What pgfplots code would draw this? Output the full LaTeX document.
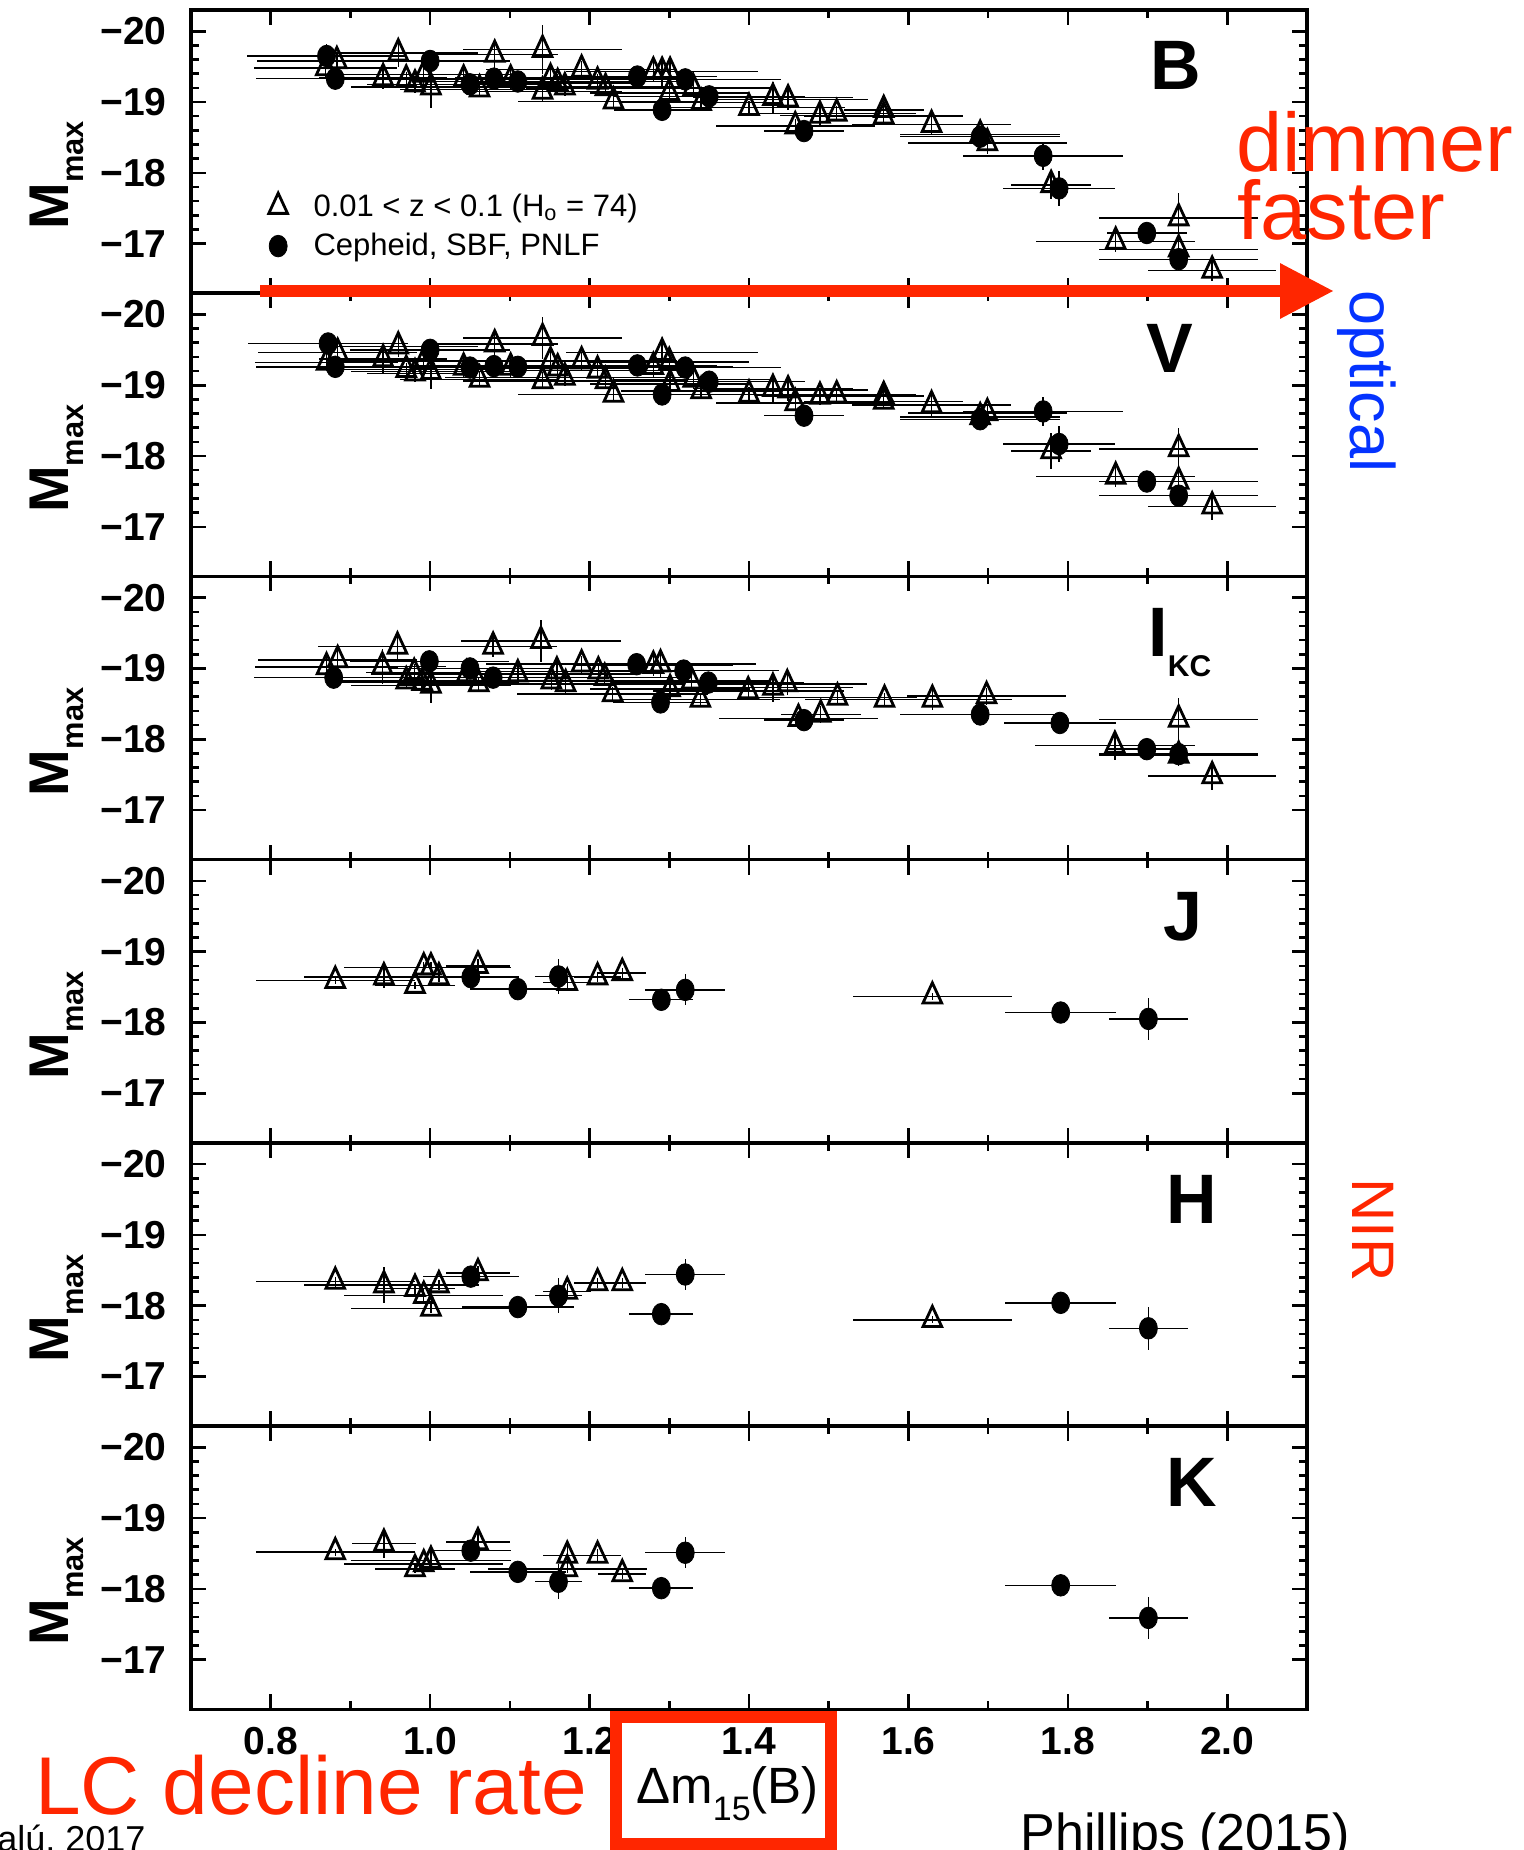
\documentclass[border=0pt]{standalone}
\usepackage{pgfplots}
\pgfplotsset{compat=1.18}
\usepackage{pgfplotstable}
\usepackage{fontspec}
\setmainfont{Liberation Sans}
\usetikzlibrary{arrows.meta}
\definecolor{kred}{RGB}{255,38,0}
\definecolor{kblue}{RGB}{4,51,255}

% ---------- B ----------
\pgfplotstableread{
x y ex ey
0.869 -19.48 0.09 0.12
0.883 -19.58 0.10 0.10
0.941 -19.34 0.08 0.15
0.960 -19.69 0.10 0.20
0.970 -19.32 0.10 0.10
0.981 -19.25 0.06 0.12
0.992 -19.39 0.12 0.20
1.001 -19.21 0.10 0.30
1.042 -19.32 0.12 0.15
1.062 -19.18 0.10 0.10
1.081 -19.67 0.08 0.22
1.101 -19.32 0.15 0.15
1.141 -19.74 0.10 0.35
1.141 -19.15 0.10 0.15
1.151 -19.34 0.12 0.20
1.160 -19.27 0.10 0.12
1.169 -19.21 0.15 0.12
1.190 -19.46 0.12 0.12
1.210 -19.29 0.10 0.10
1.220 -19.20 0.10 0.12
1.230 -19.01 0.12 0.10
1.280 -19.43 0.10 0.15
1.291 -19.43 0.12 0.20
1.300 -19.13 0.10 0.15
1.301 -19.43 0.10 0.15
1.330 -19.20 0.10 0.12
1.340 -18.99 0.10 0.10
1.400 -18.92 0.12 0.10
1.430 -19.06 0.10 0.22
1.449 -19.04 0.10 0.15
1.458 -18.66 0.10 0.10
1.489 -18.81 0.05 0.15
1.510 -18.84 0.10 0.10
1.569 -18.89 0.05 0.10
1.569 -18.80 0.10 0.12
1.629 -18.68 0.10 0.15
1.690 -18.54 0.10 0.10
1.699 -18.42 0.10 0.15
1.779 -17.83 0.05 0.20
1.860 -17.03 0.10 0.15
1.939 -17.36 0.10 0.35
1.939 -16.92 0.10 0.15
1.981 -16.62 0.08 0.15
}\BT
\pgfplotstableread{
x y ex ey
0.870 -19.65 0.10 0.17
0.881 -19.33 0.10 0.15
1.000 -19.58 0.10 0.15
1.050 -19.25 0.10 0.15
1.080 -19.33 0.10 0.12
1.110 -19.29 0.12 0.15
1.260 -19.36 0.10 0.12
1.291 -18.89 0.06 0.10
1.320 -19.32 0.12 0.12
1.350 -19.08 0.12 0.10
1.469 -18.59 0.05 0.10
1.690 -18.51 0.10 0.15
1.769 -18.24 0.10 0.20
1.789 -17.78 0.07 0.25
1.899 -17.15 0.05 0.15
1.939 -16.78 0.10 0.15
}\BC
% ---------- V ----------
\pgfplotstableread{
x y ex ey
0.870 -19.32 0.09 0.12
0.884 -19.46 0.10 0.12
0.941 -19.37 0.08 0.20
0.960 -19.55 0.10 0.15
0.970 -19.22 0.10 0.10
0.981 -19.17 0.06 0.12
0.992 -19.34 0.12 0.15
1.001 -19.19 0.10 0.25
1.042 -19.25 0.12 0.15
1.062 -19.08 0.10 0.10
1.081 -19.58 0.08 0.15
1.101 -19.25 0.15 0.15
1.141 -19.67 0.10 0.30
1.141 -19.06 0.10 0.12
1.151 -19.34 0.12 0.20
1.160 -19.24 0.10 0.12
1.169 -19.11 0.15 0.12
1.190 -19.34 0.12 0.12
1.210 -19.21 0.10 0.10
1.220 -19.06 0.10 0.12
1.230 -18.87 0.12 0.10
1.280 -19.26 0.10 0.15
1.291 -19.46 0.12 0.20
1.300 -19.33 0.10 0.15
1.301 -19.02 0.10 0.15
1.330 -19.08 0.10 0.12
1.340 -18.92 0.10 0.10
1.400 -18.87 0.12 0.10
1.430 -18.95 0.10 0.20
1.449 -18.93 0.10 0.15
1.458 -18.75 0.10 0.10
1.489 -18.84 0.05 0.12
1.510 -18.86 0.10 0.10
1.569 -18.85 0.05 0.10
1.569 -18.77 0.10 0.10
1.629 -18.72 0.10 0.15
1.690 -18.55 0.10 0.10
1.699 -18.61 0.10 0.12
1.779 -18.07 0.05 0.25
1.860 -17.71 0.10 0.15
1.939 -18.10 0.10 0.30
1.939 -17.64 0.10 0.15
1.981 -17.29 0.08 0.20
}\VT
\pgfplotstableread{
x y ex ey
0.872 -19.59 0.10 0.12
0.881 -19.26 0.10 0.15
1.000 -19.50 0.10 0.12
1.050 -19.25 0.10 0.15
1.080 -19.27 0.10 0.12
1.110 -19.26 0.12 0.15
1.260 -19.28 0.10 0.12
1.291 -18.87 0.06 0.10
1.320 -19.25 0.12 0.12
1.350 -19.05 0.12 0.10
1.469 -18.57 0.05 0.10
1.690 -18.52 0.10 0.12
1.769 -18.63 0.10 0.20
1.789 -18.17 0.07 0.25
1.899 -17.64 0.05 0.15
1.939 -17.44 0.10 0.15
}\VC
% ---------- I_KC ----------
\pgfplotstableread{
x y ex ey
0.870 -19.02 0.09 0.15
0.884 -19.12 0.10 0.20
0.940 -19.03 0.08 0.25
0.959 -19.31 0.10 0.18
0.970 -18.82 0.10 0.10
0.980 -18.94 0.06 0.12
0.990 -18.80 0.12 0.15
1.001 -18.76 0.10 0.25
1.046 -18.92 0.12 0.15
1.061 -18.78 0.10 0.10
1.079 -19.31 0.08 0.15
1.110 -18.92 0.15 0.15
1.139 -19.39 0.10 0.30
1.152 -18.82 0.10 0.12
1.159 -18.96 0.12 0.20
1.170 -18.78 0.15 0.12
1.190 -19.06 0.12 0.12
1.211 -18.96 0.10 0.10
1.219 -18.87 0.10 0.12
1.229 -18.64 0.12 0.10
1.280 -19.04 0.10 0.15
1.289 -19.06 0.12 0.20
1.301 -18.71 0.10 0.15
1.328 -18.82 0.10 0.12
1.339 -18.56 0.10 0.10
1.399 -18.68 0.12 0.10
1.430 -18.73 0.10 0.20
1.448 -18.78 0.10 0.15
1.462 -18.29 0.10 0.10
1.490 -18.35 0.05 0.12
1.511 -18.59 0.10 0.10
1.570 -18.56 0.10 0.10
1.630 -18.56 0.10 0.15
1.698 -18.61 0.10 0.12
1.859 -17.91 0.10 0.20
1.939 -18.28 0.10 0.30
1.939 -17.77 0.10 0.15
1.981 -17.48 0.08 0.20
}\IT
\pgfplotstableread{
x y ex ey
0.879 -18.87 0.10 0.15
0.999 -19.10 0.10 0.12
1.050 -19.00 0.10 0.15
1.079 -18.87 0.10 0.12
1.259 -19.06 0.10 0.12
1.289 -18.52 0.06 0.10
1.318 -18.97 0.12 0.12
1.349 -18.80 0.12 0.10
1.469 -18.27 0.05 0.10
1.690 -18.35 0.10 0.12
1.790 -18.23 0.07 0.10
1.899 -17.86 0.05 0.15
1.939 -17.79 0.10 0.15
}\IC
% ---------- J ----------
\pgfplotstableread{
x y ex ey
0.881 -18.59 0.10 0.05
0.942 -18.64 0.10 0.15
0.981 -18.52 0.05 0.05
0.992 -18.78 0.10 0.07
1.001 -18.78 0.10 0.07
1.011 -18.64 0.05 0.07
1.060 -18.80 0.04 0.10
1.172 -18.56 0.03 0.10
1.210 -18.64 0.03 0.07
1.241 -18.70 0.03 0.07
1.630 -18.37 0.10 0.05
}\JT
\pgfplotstableread{
x y ex ey
1.051 -18.64 0.06 0.05
1.110 -18.47 0.06 0.05
1.161 -18.65 0.03 0.25
1.290 -18.32 0.04 0.05
1.320 -18.46 0.05 0.22
1.791 -18.14 0.07 0.05
1.901 -18.05 0.05 0.30
}\JC
% ---------- H ----------
\pgfplotstableread{
x y ex ey
0.881 -18.34 0.10 0.07
0.942 -18.29 0.10 0.25
0.981 -18.24 0.05 0.07
0.992 -18.14 0.10 0.10
1.001 -17.96 0.10 0.07
1.011 -18.29 0.05 0.07
1.060 -18.46 0.04 0.10
1.172 -18.20 0.03 0.10
1.210 -18.32 0.03 0.07
1.241 -18.32 0.03 0.07
1.630 -17.80 0.10 0.05
}\HT
\pgfplotstableread{
x y ex ey
1.051 -18.41 0.06 0.05
1.110 -17.98 0.07 0.05
1.161 -18.14 0.03 0.25
1.290 -17.88 0.04 0.05
1.320 -18.44 0.05 0.22
1.791 -18.04 0.07 0.05
1.901 -17.68 0.05 0.30
}\HC
% ---------- K ----------
\pgfplotstableread{
x y ex ey
0.881 -18.52 0.10 0.05
0.942 -18.64 0.04 0.20
0.981 -18.28 0.05 0.05
0.992 -18.35 0.10 0.05
1.001 -18.40 0.10 0.15
1.060 -18.66 0.04 0.15
1.172 -18.47 0.03 0.15
1.172 -18.28 0.10 0.05
1.210 -18.47 0.03 0.10
1.241 -18.21 0.03 0.07
}\KT
\pgfplotstableread{
x y ex ey
1.051 -18.54 0.05 0.05
1.110 -18.24 0.06 0.05
1.161 -18.10 0.03 0.25
1.290 -18.01 0.04 0.05
1.320 -18.51 0.05 0.22
1.791 -18.05 0.07 0.05
1.901 -17.59 0.05 0.30
}\KC

\pgfplotsset{
  panel/.style={
    scale only axis, width=558pt, height=141.6pt,
    anchor=north west,
    xmin=0.7, xmax=2.1, ymin=-20.3, ymax=-16.3, y dir=reverse,
    xtick={0.8,1.0,1.2,1.4,1.6,1.8,2.0}, minor x tick num=1,
    xticklabels={},
    ytick={-20,-19,-18,-17}, minor y tick num=4,
    yticklabels={−20,−19,−18,−17},
    tick align=inside,
    major tick length=7.5pt, minor tick length=4pt,
    tick style={black, line width=1.3pt},
    axis line style={line width=1.7pt},
    yticklabel style={font=\bfseries\fontsize{19.5}{19.5}\selectfont, inner sep=0pt, xshift=-12pt},
  },
  tri/.style={only marks, mark=triangle, mark size=5.4pt,
    mark options={black, line width=1.4pt, yscale=1.25},
    error bars/.cd, x dir=both, x explicit, y dir=both, y explicit,
    error mark=none, error bar style={line width=0.7pt, black}},
  dot/.style={only marks, mark=*, mark size=4.5pt,
    mark options={black, fill=black, yscale=1.2},
    error bars/.cd, x dir=both, x explicit, y dir=both, y explicit,
    error mark=none, error bar style={line width=0.7pt, black}},
}
\newcommand{\plotpair}[2]{%
  \addplot[tri] table[x=x,y=y,x error=ex,y error=ey]{#1};
  \addplot[dot] table[x=x,y=y,x error=ex,y error=ey]{#2};
}

\begin{document}
\begin{tikzpicture}
\begin{axis}[panel, at={(95.5pt,-5pt)},
  legend cell align=left,
  legend style={draw=none, fill=none, at={(axis description cs:0.064,0.236)}, anchor=west,
    font=\fontsize{15.5}{18}\selectfont, row sep=5pt, column sep=12pt,
    nodes={inner sep=1pt}}]
\plotpair{\BT}{\BC}
\addlegendentry{0.01 < z < 0.1 (H\textsubscript{o} = 74)}
\addlegendentry{Cepheid, SBF, PNLF}
\end{axis}
\begin{axis}[panel, at={(95.5pt,-146.6pt)}]
\plotpair{\VT}{\VC}
\end{axis}
\begin{axis}[panel, at={(95.5pt,-288.2pt)}]
\plotpair{\IT}{\IC}
\end{axis}
\begin{axis}[panel, at={(95.5pt,-429.8pt)}]
\plotpair{\JT}{\JC}
\end{axis}
\begin{axis}[panel, at={(95.5pt,-571.4pt)}]
\plotpair{\HT}{\HC}
\end{axis}
\begin{axis}[panel, at={(95.5pt,-713.0pt)},
  xticklabels={0.8,1.0,1.2,1.4,1.6,1.8,2.0},
  xticklabel style={font=\bfseries\fontsize{19.5}{19.5}\selectfont, inner sep=0pt, yshift=-9pt}]
\plotpair{\KT}{\KC}
\end{axis}

\begin{scope}[x=0.5pt, y=-0.5pt]
  % y labels
  \foreach \yy in {230,513.2,796.4,1079.6,1362.8,1646}{
    \node[rotate=90, anchor=base west, inner sep=0pt, font=\bfseries\fontsize{28}{28}\selectfont]
      at (68,\yy) {M\raisebox{-7.5pt}{\fontsize{15.4}{15.4}\selectfont max}};
  }
  % panel letters
  \node[anchor=base west, inner sep=0pt, font=\bfseries\fontsize{35}{35}\selectfont] at (1150,90) {B};
  \node[anchor=base west, inner sep=0pt, font=\bfseries\fontsize{35}{35}\selectfont] at (1146,373) {V};
  \node[anchor=base west, inner sep=0pt, font=\bfseries\fontsize{35}{35}\selectfont] at (1148,656) {I\raisebox{-10pt}{\fontsize{15}{15}\selectfont KC}};
  \node[anchor=base west, inner sep=0pt, font=\bfseries\fontsize{35}{35}\selectfont] at (1163,940) {J};
  \node[anchor=base west, inner sep=0pt, font=\bfseries\fontsize{35}{35}\selectfont] at (1166,1223) {H};
  \node[anchor=base west, inner sep=0pt, font=\bfseries\fontsize{35}{35}\selectfont] at (1166,1506) {K};
  % arrow
  \draw[kred, line width=6.25pt, -{Triangle[length=27pt,width=26pt]}] (260,291) -- (1334,291);
  % annotations
  \node[anchor=base west, inner sep=0pt, text=kred, font=\fontsize{41.5}{41.5}\selectfont] at (1236,172) {dimmer};
  \node[anchor=base west, inner sep=0pt, text=kred, font=\fontsize{41.5}{41.5}\selectfont] at (1237,240) {faster};
  \node[rotate=-90, anchor=base west, inner sep=0pt, text=kblue, font=\fontsize{31.5}{31.5}\selectfont] at (1350,290) {optical};
  \node[rotate=-90, anchor=base west, inner sep=0pt, text=kred, font=\fontsize{30}{30}\selectfont] at (1352,1178) {NIR};
  \node[anchor=base west, inner sep=0pt, text=kred, font=\fontsize{41}{41}\selectfont] at (35,1814) {LC decline rate};
  \draw[kred, line width=6pt] (616,1717) rectangle (831,1844);
  \node[anchor=base west, inner sep=0pt, font=\fontsize{25.5}{25.5}\selectfont] at (636,1803) {Δm\raisebox{-8.5pt}{\fontsize{17}{17}\selectfont 15}(B)};
  \node[anchor=base west, inner sep=0pt, font=\fontsize{26}{26}\selectfont] at (1020,1850) {Phillips (2015)};
  \node[anchor=base west, inner sep=0pt, font=\fontsize{18}{18}\selectfont] at (-3,1851) {alú, 2017};
\end{scope}
\pgfresetboundingbox
\useasboundingbox (0pt,0pt) rectangle (761.5pt,-925pt);
\end{tikzpicture}
\end{document}
